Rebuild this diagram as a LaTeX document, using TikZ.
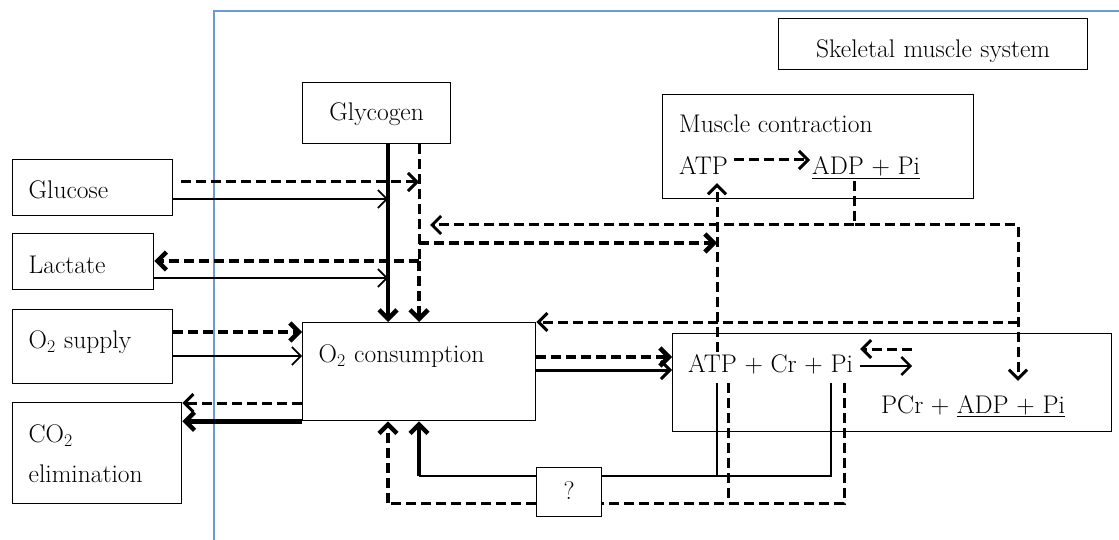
\documentclass[tikz,border=0pt]{standalone}
\usepackage{fontspec}
\usepackage{tikz}
\usetikzlibrary{arrows.meta}
\definecolor{frameblue}{HTML}{6A9AD6}

\begin{document}
\begin{tikzpicture}[x=1pt,y=-1pt,every node/.style={font=\fontsize{25.5}{40}\selectfont}]
\tikzset{blk/.style={draw,line width=1.3pt,inner xsep=16pt,inner ysep=0pt,anchor=north west,align=left},
  pane/.style={draw,line width=1.3pt,inner sep=0pt,anchor=north west},
  lbl/.style={inner sep=2pt,anchor=base west},
  thn/.style={line width=1.6pt},thk/.style={line width=4.5pt},
  dsh/.style={line width=3pt,dash pattern=on 10pt off 5pt},
  dshk/.style={line width=4.5pt,dash pattern=on 10pt off 5pt},
  hd/.style={-{Straight Barb[length=9pt,width=18pt]}}}
\useasboundingbox (0,0) rectangle (1119,540);
\draw[frameblue,line width=1.5pt] (214,540) -- (214,11) -- (1119,11);
\node[blk,align=center,text width=277pt,text height=39pt,text depth=12pt] (skel) at (778,18) {Skeletal muscle system};
\node[blk,align=center,text width=116pt,text height=38pt,text depth=23pt] (glyc) at (302,82) {Glycogen};
\node[blk,text width=128pt,text height=39pt,text depth=17pt] (gluc) at (12,159) {Glucose};
\node[blk,text width=109pt,text height=40pt,text depth=16pt] (lact) at (12,233) {Lactate};
\node[blk,text width=128pt,text height=39pt,text depth=35pt] (osup) at (12,309) {O\textsubscript{2} supply};
\node[blk,text width=137pt,text height=40pt,text depth=61pt] (coel) at (12,402) {CO\textsubscript{2}\\elimination};
\node[blk,text width=201pt,text height=40pt,text depth=58pt] (ocons) at (302,322) {O\textsubscript{2} consumption};
\node[blk,align=center,text width=33pt,text height=32pt,text depth=17pt] (unk) at (536,467) {?};
\node[pane,minimum width=311pt,minimum height=104pt] (musc) at (662,94) {};
\node[pane,minimum width=439pt,minimum height=98pt] (crbox) at (672,333) {};
\node[lbl] (musct) at (677,133) {Muscle contraction};
\node[lbl] (atpm) at (677,175) {ATP};
\node[lbl] (adpm) at (810,175) {\underline{ADP + Pi}};
\node[lbl] (atpcr) at (686,372) {ATP + Cr + Pi};
\node[lbl] (pcr) at (879,413) {PCr + \underline{ADP + Pi}};
\foreach \n/\v in {xa/388,xb/419,xc/717,xd/854,xe/1018,xg/728,xh/831,xi/844,xj/430}
  \coordinate (\n) at (\v,0);
\foreach \n/\v in {ra/182,rb/199,rc/225,rd/243,re/261,rf/278,rh/332,ri/356,rj/357,rk/370,rl/403,rn/476,ro/503,rs/383}
  \coordinate (\n) at (0,\v);
\draw[thk,hd] (glyc.south -| xa) -- (ocons.north -| xa);
\draw[dsh] (glyc.south -| xb) -- (xb |- re);
\draw[dshk,hd] (xb |- re) -- (ocons.north -| xb);
\draw[dsh,hd] ([xshift=8pt]gluc.east |- ra) -- (xb |- ra);
\foreach \a/\r in {gluc/rb,lact/rf}{
  \draw[thn,hd] (\a.east |- \r) -- (xa |- \r);
}
\draw[dshk,hd] (xb |- re) -- (lact.east |- re);
\draw[dshk,hd] (xb |- rd) -- (xc |- rd);
\draw[dsh,hd] (atpcr.north -| xc) -- ([yshift=-6pt]atpm.south -| xc);
\draw[dsh,hd] ([shift={(4pt,15pt)}]atpm.base east) -- ([yshift=15pt]adpm.base west);
\draw[dsh,hd] (adpm.south -| xd) |- (xe |- rc) -- ([yshift=12pt]pcr.north -| xe);
\draw[dsh,hd] (xd |- rc) -- (xj |- rc);
\draw[dsh,hd] (xe |- ocons.north) -- (ocons.north east);
\draw[dshk,hd] (osup.east |- rh) -- (ocons.west |- rh);
\draw[thn,hd] (osup.east |- ri) -- (ocons.west |- ri);
\draw[dsh,hd] (ocons.west |- rl) -- (coel.east |- rl);
\draw[thk,hd] (ocons.south west) -- (coel.east |- ocons.south);
\draw[dshk,hd] (ocons.east |- rj) -- (crbox.west |- rj);
\draw[line width=3pt,hd] (ocons.east |- rk) -- (crbox.west |- rk);
\draw[dsh,hd] ([shift={(57pt,23pt)}]atpcr.base east) -- ([shift={(5pt,23pt)}]atpcr.base east);
\draw[line width=2.5pt,hd] ([shift={(5pt,6pt)}]atpcr.base east) -- ([shift={(57pt,6pt)}]atpcr.base east);
\draw[thn] (xh |- rs) |- (unk.east |- rn);
\draw[thn] (xc |- rs) -- (xc |- rn);
\draw[thn] (unk.west |- rn) -- (xb |- rn);
\draw[thk,hd] (xb |- rn) -- (ocons.south -| xb);
\draw[dsh] (xi |- rs) |- (unk.east |- ro);
\draw[dsh] (xg |- rs) -- (xg |- ro);
\draw[dsh] (unk.west |- ro) -- (xa |- ro);
\draw[dshk,hd] (xa |- ro) -- (ocons.south -| xa);
\end{tikzpicture}
\end{document}
